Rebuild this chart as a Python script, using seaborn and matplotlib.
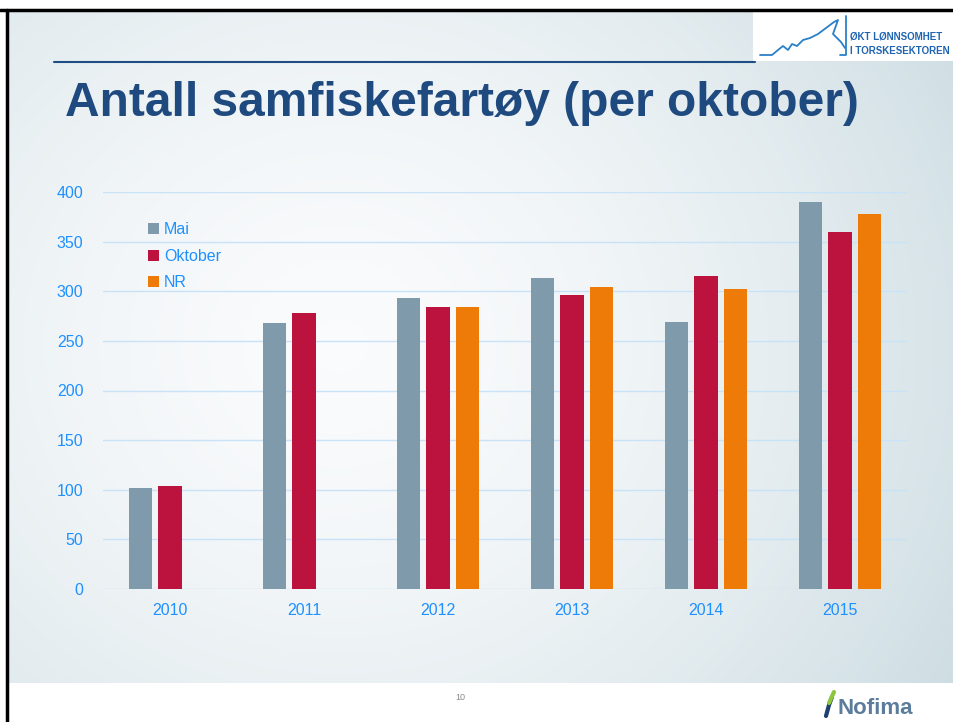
import numpy as np
import pandas as pd
import matplotlib
matplotlib.use("Agg")
import matplotlib.pyplot as plt
from matplotlib.patches import Patch, Rectangle
import seaborn as sns

# data
years = ["2010", "2011", "2012", "2013", "2014", "2015"]
mai = [102, 268, 293, 313, 269, 390]
oktober = [104, 278, 284, 296, 315, 360]
nr = [np.nan, np.nan, 284, 304, 302, 378]
series = ["Mai", "Oktober", "NR"]
colors = ["#7F9AAB", "#BC133E", "#EE7A07"]

df = pd.DataFrame({"year": years * 3,
                   "serie": np.repeat(series, len(years)),
                   "value": mai + oktober + nr}).dropna()

sns.set_theme(style="white")
plt.rcParams["font.family"] = ["Liberation Sans", "DejaVu Sans"]

fig = plt.figure(figsize=(9.54, 7.22), dpi=100)

# slide background with soft gradient
bg = fig.add_axes([7/954, 39/722, 1 - 7/954, 673/722])
xx, yy = np.meshgrid(np.linspace(0, 1, 300), np.linspace(0, 1, 300))
d = np.sqrt(((xx - 0.35) / 1.0) ** 2 + ((yy - 0.5) / 1.3) ** 2)
light = np.clip(d / 0.75, 0, 1)
c0 = np.array([0.98, 0.985, 0.99])
c1 = np.array([0.81, 0.87, 0.89])
img = c0 + (c1 - c0) * light[..., None] ** 1.6
bg.imshow(img, aspect="auto", extent=[0, 1, 0, 1], origin="upper")
bg.set_axis_off()

# borders and title line
fig.add_artist(plt.Line2D([0, 1], [1 - 10/722, 1 - 10/722], color="black", lw=2.5))
fig.add_artist(plt.Line2D([7/954, 7/954], [0, 1 - 10/722], color="black", lw=2.5))
fig.add_artist(plt.Line2D([54/954, 755/954], [1 - 62/722, 1 - 62/722], color="#1F4E85", lw=1.5))

fig.text(65/954, 1 - 103/722, "Antall samfiskefartøy (per oktober)", fontsize=34.5,
         fontweight="bold", color="#1F4A7F", va="center", ha="left")

# logo box top right
fig.add_artist(Rectangle((753/954, 1 - 61/722), 201/954, 49/722, transform=fig.transFigure,
                         facecolor="white", edgecolor="none"))
fig.add_artist(plt.Line2D(np.array([760, 772, 778, 783, 788, 792, 797, 803, 810, 818, 826, 834, 838, 833, 841, 845]) / 954,
                          1 - np.array([55, 55, 50, 46, 50, 44, 46, 40, 38, 34, 28, 22, 20, 34, 42, 48]) / 722,
                          color="#2A7FC9", lw=1.3))
fig.add_artist(plt.Line2D(np.array([840, 846, 846]) / 954, 1 - np.array([55, 55, 16]) / 722,
                          color="#2A7FC9", lw=1.3))
fig.text(850/954, 1 - 37/722, "ØKT LØNNSOMHET", fontsize=7, fontweight="bold", color="#1F64B0", va="center")
fig.text(850/954, 1 - 51/722, "I TORSKESEKTOREN", fontsize=7, fontweight="bold", color="#1F64B0", va="center")

# footer
fig.text(460/954, 1 - 697/722, "10", fontsize=6.5, color="#8A8A8A", ha="center", va="center")
fig.text(838/954, 1 - 708/722, "Nofima", fontsize=16, fontweight="bold", color="#5C7C9C", va="center")
fig.add_artist(plt.Line2D([826/954, 829/954, 832/954], [1 - 716/722, 1 - 705/722, 1 - 697/722],
                          color="#1F3F6F", lw=3))
fig.add_artist(plt.Line2D([829/954, 834/954], [1 - 703/722, 1 - 692/722], color="#8DC63F", lw=3))

# chart
ax = fig.add_axes([103/954, 1 - 589/722, 804/954, 397/722])
ax.patch.set_alpha(0)
sns.barplot(data=df, x="year", y="value", hue="serie", order=years, hue_order=series,
            palette=colors, width=0.66, gap=0.2, saturation=1, linewidth=0,
            ax=ax, errorbar=None, legend=False)

ax.set_ylim(0, 400)
ax.set_yticks(range(0, 401, 50))
ax.yaxis.grid(True, color="#C8E2F7", lw=1)
ax.set_axisbelow(True)
for s in ax.spines.values():
    s.set_visible(False)
ax.set_xlabel("")
ax.set_ylabel("")
ax.tick_params(axis="both", colors="#1E90FF", labelsize=11.5, length=0, pad=10)
ax.tick_params(axis="y", pad=14)

handles = [Patch(facecolor=c, edgecolor="none") for c in colors]
leg = ax.legend(handles, series, loc="upper left", bbox_to_anchor=(0.038, 0.96), frameon=False,
                fontsize=11.5, labelcolor="#1E90FF", handlelength=0.7, handleheight=0.7,
                handletextpad=0.3, labelspacing=0.72)

fig.savefig("out.png", dpi=100)
